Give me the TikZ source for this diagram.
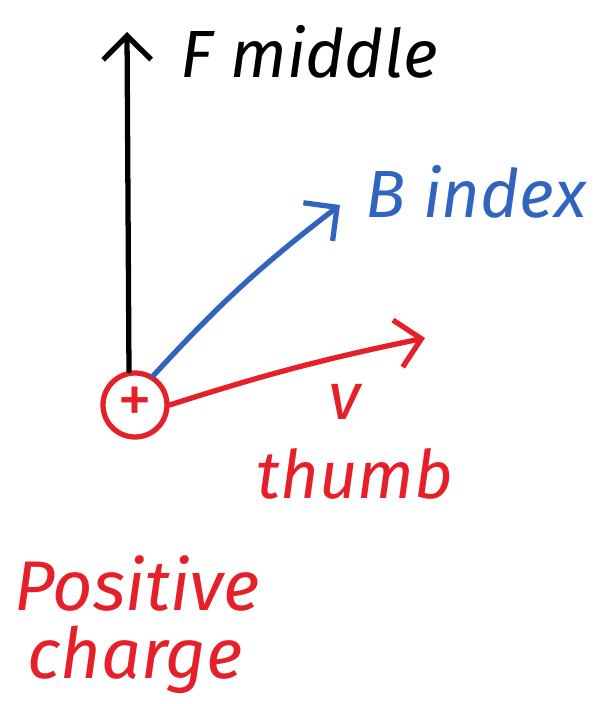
\documentclass[tikz,border=0pt]{standalone}
\usepackage{fontspec}
\setmainfont{Fira Sans}
\usetikzlibrary{arrows.meta}
\definecolor{penred}{RGB}{230,32,40}
\definecolor{penblue}{RGB}{48,100,190}
\begin{document}
\begin{tikzpicture}[
    pen/.style={line width=1.5pt, line cap=round, -{Straight Barb[length=2.4mm, width=4.8mm, line width=1.5pt]}},
    hand/.style={font=\fontsize{19}{22}\selectfont\itshape, inner sep=0pt}
]
    \useasboundingbox (0,0) rectangle (6.1,7.04);

    % 绘制正电荷
    \node[circle, draw=penred, line width=1.5pt, minimum size=0.64cm, inner sep=0pt,
          text=penred, font=\fontsize{20}{20}\selectfont] (charge) at (1.35,2.99) {+};

    % 绘制三个箭头
    \coordinate (Ftip) at (1.27,6.72);
    \coordinate (Btip) at (3.40,4.99);
    \coordinate (vtip) at (4.25,3.66);
    \draw[pen] (charge.100) -- (Ftip);
    \draw[pen, penblue] (charge.58) to[bend left=5] (Btip);
    \draw[pen, penred] (charge.east) to[bend left=3] (vtip);

    % 标注箭头
    \node[hand, anchor=west] (Flabel) at (1.80,6.52) {F middle};
    \node[hand, anchor=west, text=penblue] (Blabel) at (3.65,5.12) {B index};
    \node[hand, text=penred] (vlabel) at (3.45,3.02) {v};
    \node[hand, text=penred] (thumb) at (3.55,2.30) {thumb};

    % 标注电荷
    \node[hand, text=penred, font=\fontsize{20}{22}\selectfont\itshape] (pos) at (1.37,1.20) {Positive};
    \node[hand, text=penred, font=\fontsize{20}{22}\selectfont\itshape] (chg) at (1.35,0.44) {charge};
\end{tikzpicture}
\end{document}
